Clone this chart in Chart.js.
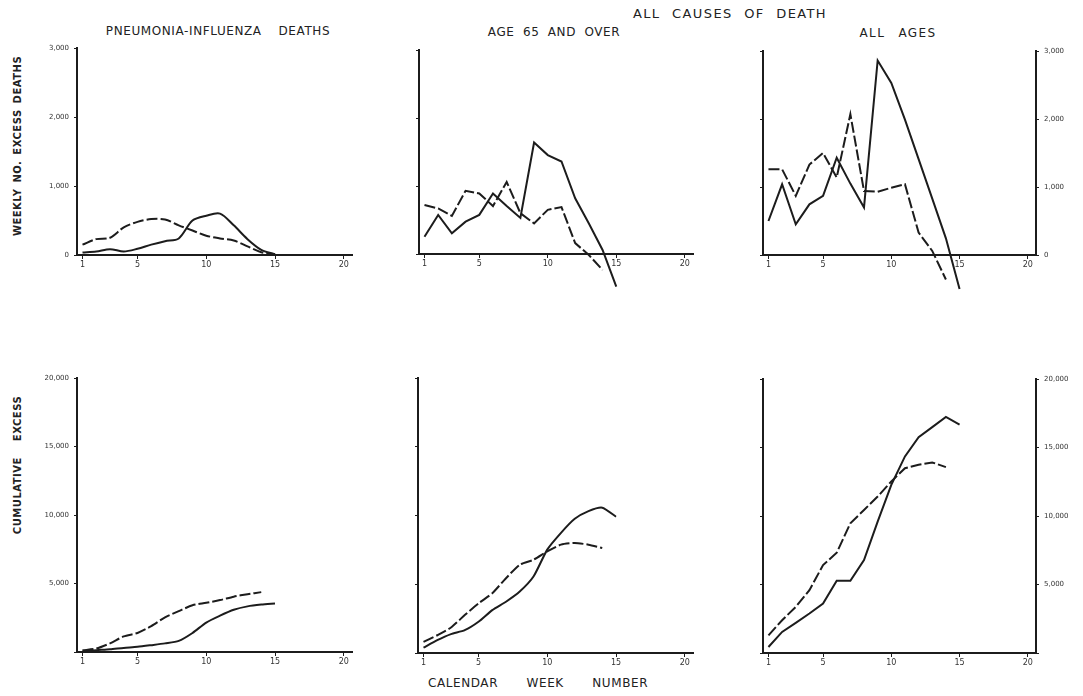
<!DOCTYPE html>
<html>
<head>
<meta charset="utf-8">
<script src="https://cdn.jsdelivr.net/npm/chart.js@4.4.1/dist/chart.umd.min.js"></script>
<style>
  html, body { margin: 0; padding: 0; background: #fff; }
  body { width: 1083px; height: 696px; position: relative; overflow: hidden;
         font-family: "DejaVu Sans", "Liberation Sans", sans-serif; color: #222; }
  canvas { position: absolute; }
  .lbl { position: absolute; white-space: nowrap; transform: translate(-50%, -50%);
         font-size: 12px; letter-spacing: 0.6px; word-spacing: 4px; }
  .ytitle { position: absolute; white-space: nowrap; font-size: 10px; font-weight: bold;
            letter-spacing: 0.5px; word-spacing: 2px; transform: translate(-50%, -50%) rotate(-90deg); }
</style>
</head>
<body>

<div class="lbl" style="left:730px; top:13px; font-size:13px; letter-spacing:1.4px; word-spacing:6px;">ALL CAUSES OF DEATH</div>
<div class="lbl" style="left:218px; top:31px;">PNEUMONIA-INFLUENZA&nbsp; DEATHS</div>
<div class="lbl" style="left:554px; top:32px;">AGE 65 AND OVER</div>
<div class="lbl" style="left:898px; top:33px; letter-spacing:1.4px; word-spacing:8px;">ALL AGES</div>
<div class="lbl" style="left:538px; top:683px; word-spacing:24px;">CALENDAR WEEK NUMBER</div>
<div class="ytitle" style="left:17px; top:146px;">WEEKLY NO. EXCESS DEATHS</div>
<div class="ytitle" style="left:17px; top:465px; word-spacing:12px;">CUMULATIVE EXCESS</div>

<canvas id="p1"></canvas>
<canvas id="p2"></canvas>
<canvas id="p3"></canvas>
<canvas id="p4"></canvas>
<canvas id="p5"></canvas>
<canvas id="p6"></canvas>

<script>
// ---- data (weeks 1..15, dashed = earlier season, solid = later season) ----
const weeks = [1, 2, 3, 4, 5, 6, 7, 8, 9, 10, 11, 12, 13, 14, 15];
const xTicks = [1, 5, 10, 15, 20];
const weeklyTicks = [0, 1000, 2000, 3000];
const cumulativeTicks = [0, 5000, 10000, 15000, 20000];

// weekly excess deaths
const pneuWeeklyDashed = [150, 230, 250, 400, 480, 520, 515, 430, 355, 280, 240, 210, 125, 40, 10];
const pneuWeeklySolid  = [35, 50, 85, 50, 90, 150, 200, 240, 500, 570, 600, 430, 230, 75, 10];
const age65WeeklyDashed = [720, 670, 560, 930, 890, 705, 1060, 600, 450, 650, 690, 160, -15, -235];
const age65WeeklySolid  = [255, 575, 305, 475, 575, 890, 705, 530, 1640, 1455, 1360, 820, 450, 60, -480];
const allWeeklyDashed = [1260, 1260, 870, 1330, 1500, 1140, 2070, 940, 930, 990, 1040, 330, 60, -360];
const allWeeklySolid  = [500, 1040, 450, 745, 870, 1430, 1050, 700, 2860, 2530, 1990, 1410, 830, 245, -500];

// cumulative excess
const pneuCumDashed = [126, 250, 630, 1140, 1390, 1890, 2530, 2980, 3410, 3590, 3790, 4040, 4220, 4370];
const pneuCumSolid  = [50, 130, 200, 300, 380, 500, 630, 810, 1390, 2150, 2650, 3080, 3330, 3460, 3540];
const age65CumDashed = [805, 1290, 1850, 2760, 3610, 4340, 5440, 6420, 6780, 7390, 7880, 8000, 7880, 7640];
const age65CumSolid  = [390, 930, 1370, 1660, 2270, 3120, 3730, 4470, 5560, 7520, 8740, 9760, 10320, 10570, 9910];
const allCumDashed = [1290, 2390, 3370, 4590, 6420, 7320, 9470, 10440, 11420, 12520, 13490, 13740, 13910, 13570];
const allCumSolid  = [440, 1540, 2200, 2880, 3610, 5270, 5270, 6780, 9590, 12270, 14350, 15760, 16490, 17230, 16670];

const INK = '#1c1c1c';
const fmt = v => v.toLocaleString('en-US');

function toPoints(vals) {
    return vals.map((v, i) => ({ x: weeks[i], y: v }));
}

function series(vals, dashed, tension) {
    return {
        data: toPoints(vals),
        borderColor: INK,
        borderWidth: 2,
        borderDash: dashed ? [11, 3] : [],
        pointRadius: 0,
        tension: tension,
        clip: false,
        fill: false
    };
}

function yAxis(position, ticks, width, labels, showZero) {
    return {
        type: 'linear',
        position: position,
        min: ticks[0],
        max: ticks[ticks.length - 1],
        afterFit: s => { s.width = width; },
        afterBuildTicks: s => { s.ticks = ticks.map(v => ({ value: v })); },
        border: { display: true, color: INK, width: 2 },
        grid: { drawOnChartArea: false, drawTicks: true, tickLength: 3, color: INK },
        ticks: {
            display: labels,
            padding: 5,
            color: '#333',
            font: { family: 'DejaVu Sans', size: 7 },
            callback: v => (v === 0 && !showZero) ? '' : fmt(v)
        }
    };
}

// p: area box in page pixels; the canvas is placed around it
function makePanel(id, p, datasets, yTicks, axes) {
    const padL = axes.leftLabels ? 45 : 10;
    const padR = axes.rightLabels ? 46 : 12;
    const padT = 10;
    const padB = p.padB;
    const w = p.right - p.left, h = p.bottom - p.top;
    const cv = document.getElementById(id);
    cv.width = padL + w + padR;
    cv.height = padT + h + padB;
    cv.style.left = (p.left - padL) + 'px';
    cv.style.top = (p.top - padT) + 'px';

    const scales = {
        x: {
            type: 'linear',
            min: 0.6,
            max: 20.6,
            afterFit: s => { s.height = padB; },
            afterBuildTicks: s => { s.ticks = xTicks.map(v => ({ value: v })); },
            border: { display: true, color: INK, width: 2 },
            grid: { drawOnChartArea: false, drawTicks: true, tickLength: 4, color: INK },
            ticks: { autoSkip: false, maxRotation: 0, padding: 1, color: '#333',
                     font: { family: 'DejaVu Sans', size: 8 }, callback: v => String(v) }
        },
        y: yAxis('left', yTicks, padL, axes.leftLabels, axes.zero)
    };
    if (axes.right) {
        scales.y2 = yAxis('right', yTicks, padR, axes.rightLabels, axes.zero);
    }

    new Chart(cv, {
        type: 'line',
        data: { datasets: datasets },
        options: {
            responsive: false,
            animation: false,
            devicePixelRatio: 1,
            layout: { padding: { top: padT, right: axes.right ? 0 : padR, left: 0, bottom: 0 } },
            plugins: { legend: { display: false }, tooltip: { enabled: false } },
            scales: scales
        }
    });
}

// Graphiques hebdomadaires (haut)
makePanel('p1', { left: 77, right: 352, top: 48, bottom: 255, padB: 24 },
    [series(pneuWeeklyDashed, true, 0.3), series(pneuWeeklySolid, false, 0.3)],
    weeklyTicks, { leftLabels: true, zero: true });
makePanel('p2', { left: 419, right: 693, top: 50, bottom: 254, padB: 42 },
    [series(age65WeeklyDashed, true, 0), series(age65WeeklySolid, false, 0)],
    weeklyTicks, { leftLabels: false });
makePanel('p3', { left: 763, right: 1036, top: 51, bottom: 255, padB: 42 },
    [series(allWeeklyDashed, true, 0), series(allWeeklySolid, false, 0)],
    weeklyTicks, { leftLabels: false, right: true, rightLabels: true, zero: true });

// Graphiques cumulés (bas)
makePanel('p4', { left: 77, right: 352, top: 378, bottom: 652, padB: 24 },
    [series(pneuCumDashed, true, 0.25), series(pneuCumSolid, false, 0.25)],
    cumulativeTicks, { leftLabels: true, zero: false });
makePanel('p5', { left: 418, right: 693, top: 378, bottom: 653, padB: 24 },
    [series(age65CumDashed, true, 0.2), series(age65CumSolid, false, 0.2)],
    cumulativeTicks, { leftLabels: false });
makePanel('p6', { left: 763, right: 1036, top: 379, bottom: 653, padB: 24 },
    [series(allCumDashed, true, 0), series(allCumSolid, false, 0)],
    cumulativeTicks, { leftLabels: false, right: true, rightLabels: true, zero: false });
</script>
</body>
</html>
